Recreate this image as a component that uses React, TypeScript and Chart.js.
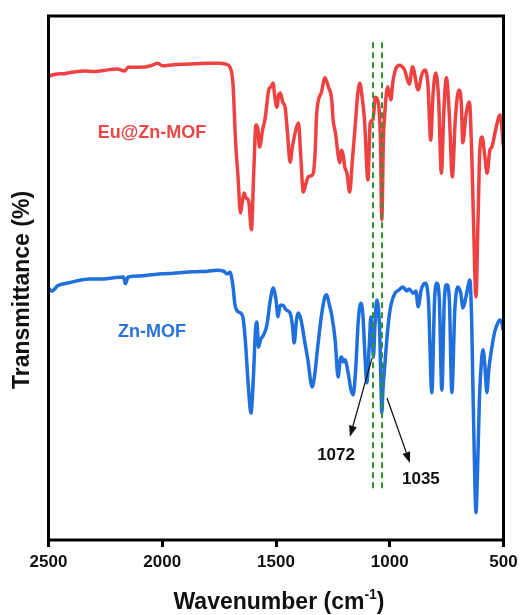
import { useEffect, useRef } from 'react';
import { Chart, registerables } from 'chart.js';

Chart.register(...registerables);

const FONT = '"Liberation Sans", Arial, Helvetica, sans-serif';

// Eu@Zn-MOF spectrum (wavenumber cm-1, transmittance a.u.)
const redWave = [
  2500, 2470, 2430, 2390, 2340, 2300, 2260, 2200, 2165, 2150, 2100, 2050, 2020, 2000, 1950, 1900, 1850, 1800, 1750, 1720,
  1702, 1689, 1678, 1667, 1656, 1648, 1641, 1632, 1620, 1608, 1598, 1588, 1580, 1572, 1560, 1547, 1532, 1522, 1513, 1505,
  1496, 1488, 1481, 1470, 1460, 1450, 1438, 1428, 1416, 1408, 1401, 1392, 1380, 1370, 1358, 1345, 1336, 1328, 1321, 1300,
  1285, 1270, 1255, 1249, 1238, 1227, 1220, 1212, 1205, 1198, 1188, 1176, 1165, 1152, 1140, 1132, 1120, 1111, 1096, 1086,
  1074, 1063, 1050, 1041, 1035, 1028, 1023, 1009, 995, 987, 975, 958, 935, 914, 900, 875, 860, 845, 832, 820,
  810, 798, 785, 773, 762, 751, 738, 725, 712, 696, 685, 679, 665, 650, 640, 632, 621, 612, 604, 594,
  583, 572, 560, 551, 535, 515, 500,
];
const redT = [
  88.5, 88.9, 89.0, 89.3, 89.5, 89.4, 89.6, 89.9, 89.5, 90.2, 90.2, 90.5, 91.0, 90.5, 90.7, 90.8, 90.9, 91.0, 91.0, 90.8,
  90.2, 87.0, 76.3, 69.3, 62.4, 64.5, 66.2, 65.3, 64.7, 59.2, 70.0, 79.2, 78.5, 75.0, 78.0, 80.7, 85.9, 86.5, 87.2, 84.5,
  82.6, 85.0, 85.3, 83.5, 82.6, 78.0, 72.1, 75.0, 77.7, 79.0, 79.6, 74.0, 66.4, 67.8, 69.3, 69.5, 70.0, 74.0, 81.5, 85.5,
  88.2, 86.5, 84.0, 80.2, 77.5, 73.5, 72.0, 74.4, 73.5, 71.2, 70.0, 66.4, 72.0, 79.0, 85.5, 87.2, 84.0, 80.2, 68.7, 79.6,
  80.2, 84.5, 83.4, 76.3, 61.1, 76.3, 80.7, 86.5, 84.0, 87.2, 89.7, 90.6, 89.7, 87.0, 90.3, 85.9, 88.7, 89.7, 86.8, 76.3,
  84.9, 89.1, 84.0, 70.0, 82.1, 88.2, 81.1, 69.3, 80.2, 85.9, 83.0, 75.8, 81.1, 83.6, 74.4, 61.1, 46.4, 61.1, 74.4, 76.9,
  73.5, 70.0, 74.4, 75.0, 78.2, 81.1, 75.0,
];

// Zn-MOF spectrum
const blueWave = [
  2500, 2485, 2460, 2420, 2380, 2320, 2270, 2220, 2170, 2162, 2150, 2100, 2050, 2000, 1950, 1900, 1850, 1800, 1760, 1730,
  1715, 1702, 1690, 1680, 1665, 1655, 1645, 1635, 1622, 1610, 1600, 1590, 1584, 1577, 1568, 1555, 1540, 1525, 1512, 1500,
  1491, 1482, 1470, 1455, 1438, 1428, 1420, 1410, 1402, 1390, 1375, 1360, 1341, 1330, 1318, 1300, 1285, 1277, 1265, 1255,
  1240, 1227, 1218, 1212, 1204, 1197, 1183, 1170, 1161, 1150, 1138, 1127, 1118, 1108, 1101, 1090, 1083, 1076, 1072, 1065,
  1057, 1050, 1044, 1038, 1035, 1030, 1021, 1008, 995, 977, 960, 942, 925, 915, 897, 885, 875, 862, 845, 830,
  815, 803, 793, 782, 771, 760, 749, 738, 727, 714, 700, 688, 678, 665, 652, 648, 640, 635, 628, 621,
  614, 606, 598, 590, 582, 573, 565, 551, 540, 529, 516, 508, 502,
];
const blueT = [
  48.1, 47.5, 48.5, 49.0, 49.4, 49.8, 49.8, 50.0, 50.2, 48.9, 50.2, 50.4, 50.6, 50.8, 50.9, 51.1, 51.2, 51.3, 51.5, 51.3,
  50.8, 51.1, 48.7, 44.8, 43.5, 43.3, 42.4, 38.2, 29.6, 24.2, 30.5, 40.1, 41.6, 36.8, 38.2, 39.1, 41.0, 45.8, 48.1, 45.8,
  42.6, 44.8, 44.8, 43.9, 43.3, 41.0, 37.6, 42.0, 43.3, 42.0, 38.2, 34.4, 29.2, 31.5, 36.3, 42.9, 46.4, 46.8, 44.8, 42.9,
  38.2, 31.1, 34.4, 34.9, 34.0, 34.4, 31.9, 28.6, 27.7, 32.4, 42.0, 45.2, 42.9, 34.4, 30.0, 37.2, 42.6, 38.2, 34.9, 41.0,
  45.8, 44.3, 39.5, 28.6, 24.2, 28.6, 33.8, 40.6, 44.8, 47.1, 47.7, 48.3, 47.5, 47.9, 47.1, 47.5, 44.5, 47.7, 49.0, 45.8,
  28.1, 45.8, 49.0, 45.8, 28.6, 45.8, 48.7, 45.8, 28.1, 43.9, 48.3, 47.1, 44.3, 46.4, 49.2, 49.6, 42.0, 30.5, 15.3, 5.2,
  13.4, 26.7, 33.4, 36.3, 33.4, 28.1, 32.4, 36.8, 39.5, 41.0, 42.0, 41.6, 40.1,
];

const xTicks = [2500, 2000, 1500, 1000, 500];
const seriesNames = ['Eu@Zn-MOF', 'Zn-MOF'];
const seriesLabelPos = [[2045, 77.7], [2045, 39.7]];
const markerWaves = [1072, 1035];
const markerRange = [9.2, 95.0];
const arrowLabels = ['1072', '1035'];
const arrowFrom = [[1078, 34.7], [1012, 27.1]];
const arrowTo = [[1175, 19.7], [911, 14.7]];
const arrowLabelPos = [[1236, 16.2], [863, 11.5]];

const RED = '#ee4242';
const BLUE = '#1f6fdc';

const overlay = {
  id: 'overlay',
  afterDatasetsDraw(chart: any) {
    const { ctx, chartArea: a, scales } = chart;
    const x = scales.x;
    const y = scales.y;
    ctx.save();

    // dashed marker lines
    ctx.strokeStyle = '#2f962f';
    ctx.lineWidth = 2;
    ctx.setLineDash([6, 4]);
    markerWaves.forEach((w) => {
      const px = Math.round(x.getPixelForValue(w));
      ctx.beginPath();
      ctx.moveTo(px, y.getPixelForValue(markerRange[1]));
      ctx.lineTo(px, y.getPixelForValue(markerRange[0]));
      ctx.stroke();
    });
    ctx.setLineDash([]);

    // arrows
    ctx.strokeStyle = '#111';
    ctx.fillStyle = '#111';
    ctx.lineWidth = 1.3;
    arrowFrom.forEach((f, i) => {
      const x1 = x.getPixelForValue(f[0]);
      const y1 = y.getPixelForValue(f[1]);
      const x2 = x.getPixelForValue(arrowTo[i][0]);
      const y2 = y.getPixelForValue(arrowTo[i][1]);
      const ang = Math.atan2(y2 - y1, x2 - x1);
      const hl = 11;
      const hw = 4;
      const bx = x2 - hl * Math.cos(ang);
      const by = y2 - hl * Math.sin(ang);
      ctx.beginPath();
      ctx.moveTo(x1, y1);
      ctx.lineTo(bx, by);
      ctx.stroke();
      ctx.beginPath();
      ctx.moveTo(x2, y2);
      ctx.lineTo(bx + hw * Math.sin(ang), by - hw * Math.cos(ang));
      ctx.lineTo(bx - hw * Math.sin(ang), by + hw * Math.cos(ang));
      ctx.closePath();
      ctx.fill();
    });

    // arrow labels
    ctx.font = `bold 17px ${FONT}`;
    ctx.textAlign = 'center';
    ctx.textBaseline = 'middle';
    ctx.fillStyle = '#111';
    arrowLabels.forEach((t, i) => {
      ctx.fillText(t, x.getPixelForValue(arrowLabelPos[i][0]), y.getPixelForValue(arrowLabelPos[i][1]));
    });

    // series labels
    ctx.font = `bold 18px ${FONT}`;
    const cols = ['#e84848', '#2a72d5'];
    seriesNames.forEach((t, i) => {
      ctx.fillStyle = cols[i];
      ctx.fillText(t, x.getPixelForValue(seriesLabelPos[i][0]), y.getPixelForValue(seriesLabelPos[i][1]));
    });

    // frame
    ctx.strokeStyle = '#000';
    ctx.lineWidth = 3;
    ctx.strokeRect(a.left, a.top, a.right - a.left, a.bottom - a.top);
    ctx.restore();
  },
  afterDraw(chart: any) {
    const { ctx, chartArea: a } = chart;
    ctx.save();
    ctx.fillStyle = '#111';
    // y title
    ctx.font = `bold 23px ${FONT}`;
    ctx.textAlign = 'center';
    ctx.textBaseline = 'middle';
    ctx.translate(23, (a.top + a.bottom) / 2 + 12);
    ctx.rotate(-Math.PI / 2);
    ctx.fillText('Transmittance (%)', 0, 0);
    ctx.restore();

    // x title with superscript
    ctx.save();
    ctx.fillStyle = '#111';
    ctx.textBaseline = 'alphabetic';
    ctx.textAlign = 'left';
    const main = 'Wavenumber (cm';
    const sup = '-1';
    const end = ')';
    ctx.font = `bold 23px ${FONT}`;
    const w1 = ctx.measureText(main).width;
    const w3 = ctx.measureText(end).width;
    ctx.font = `bold 14px ${FONT}`;
    const w2 = ctx.measureText(sup).width;
    const total = w1 + w2 + w3;
    const cx = (a.left + a.right) / 2 + 3;
    const base = 609;
    let sx = cx - total / 2;
    ctx.font = `bold 23px ${FONT}`;
    ctx.fillText(main, sx, base);
    sx += w1;
    ctx.font = `bold 14px ${FONT}`;
    ctx.fillText(sup, sx, base - 10);
    sx += w2;
    ctx.font = `bold 23px ${FONT}`;
    ctx.fillText(end, sx, base);
    ctx.restore();
  },
};

export default function App() {
  const ref = useRef<HTMLCanvasElement>(null);

  useEffect(() => {
    document.body.style.margin = '0';
    const canvas = ref.current;
    if (!canvas) return;
    const chart = new Chart(canvas, {
      type: 'line',
      data: {
        datasets: [
          {
            label: seriesNames[0],
            data: redWave.map((w, i) => ({ x: w, y: redT[i] })),
            borderColor: RED,
            borderWidth: 3.5,
            pointRadius: 0,
            cubicInterpolationMode: 'monotone',
            fill: false,
          },
          {
            label: seriesNames[1],
            data: blueWave.map((w, i) => ({ x: w, y: blueT[i] })),
            borderColor: BLUE,
            borderWidth: 3.5,
            pointRadius: 0,
            cubicInterpolationMode: 'monotone',
            fill: false,
          },
        ],
      },
      options: {
        animation: false,
        responsive: false,
        devicePixelRatio: 1,
        layout: { padding: { left: 48.5, right: 24.5, top: 16, bottom: 0 } },
        plugins: { legend: { display: false }, tooltip: { enabled: false } },
        scales: {
          x: {
            type: 'linear',
            reverse: true,
            min: 500,
            max: 2500,
            afterFit: (s: any) => {
              s.height = 75;
            },
            afterBuildTicks: (s: any) => {
              s.ticks = xTicks.map((v) => ({ value: v }));
            },
            ticks: {
              color: '#111',
              font: { family: FONT, size: 17, weight: 'bold' },
              padding: 5,
              maxRotation: 0,
              autoSkip: false,
              callback: (v: any) => String(v),
            },
            grid: {
              display: true,
              drawOnChartArea: false,
              drawTicks: true,
              tickLength: 7,
              color: '#000',
              lineWidth: 3,
            },
            border: { display: false },
          },
          y: {
            display: false,
            min: 0,
            max: 100,
          },
        },
      },
      plugins: [overlay],
    });
    return () => chart.destroy();
  }, []);

  return (
    <div style={{ width: 528, height: 615, background: '#fff' }}>
      <canvas ref={ref} width={528} height={615} />
    </div>
  );
}
